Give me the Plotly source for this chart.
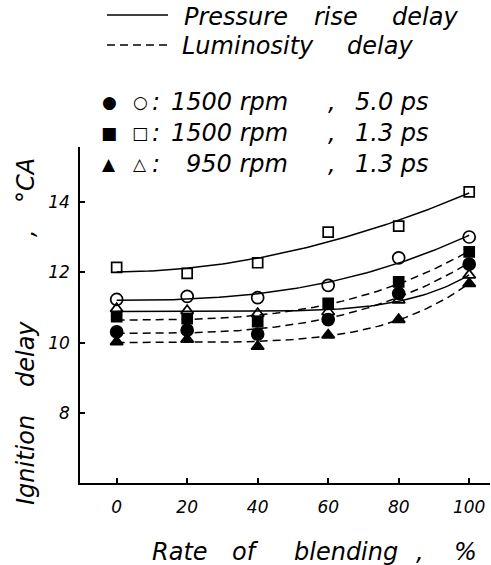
import numpy as np
import plotly.graph_objects as go

# ---------------- data ----------------
blend = [0, 20, 40, 60, 80, 100]
# 1500 rpm, 5.0 ps
press_1500_50 = [11.23, 11.32, 11.28, 11.63, 12.41, 13.00]
lum_1500_50 = [10.31, 10.36, 10.25, 10.66, 11.40, 12.23]
# 1500 rpm, 1.3 ps
press_1500_13 = [12.14, 11.97, 12.27, 13.14, 13.31, 14.28]
lum_1500_13 = [10.74, 10.69, 10.60, 11.12, 11.73, 12.58]
# 950 rpm, 1.3 ps
press_950_13 = [10.97, 10.91, 10.83, 10.88, 11.21, 11.92]
lum_950_13 = [10.03, 10.10, 9.90, 10.22, 10.66, 11.68]

x_ticks = [0, 20, 40, 60, 80, 100]
y_ticks = [8, 10, 12, 14]

W, H = 491, 565
L, R, T, B = 80, 1, 147, 82
PW, PH = W - L - R, H - T - B

FONT = "DejaVu Sans"
DASH = "8px,5px"


def px(xp):
    return (xp - L) / PW


def py(yp):
    return (H - B - yp) / PH


def fit_curve(x, y, xs):
    """Smooth trend a + b*x^p, exponent chosen by least squares."""
    x = np.asarray(x, float)
    y = np.asarray(y, float)
    best = None
    for p in np.arange(1.5, 6.01, 0.1):
        A = np.column_stack([np.ones_like(x), (x / 100.0) ** p])
        coef, *_ = np.linalg.lstsq(A, y, rcond=None)
        r = np.sum((A @ coef - y) ** 2)
        if best is None or r < best[0]:
            best = (r, p, coef)
    _, p, coef = best
    return coef[0] + coef[1] * (xs / 100.0) ** p


fig = go.Figure()

series = [
    (press_1500_50, "circle-open", "solid", 12),
    (lum_1500_50, "circle", DASH, 12),
    (press_1500_13, "square-open", "solid", 10),
    (lum_1500_13, "square", DASH, 10),
    (press_950_13, "triangle-up-open", "solid", 11),
    (lum_950_13, "triangle-up", DASH, 11),
]

xs = np.linspace(0, 100, 101)
for vals, sym, dash, size in series:
    fig.add_trace(go.Scatter(x=xs, y=fit_curve(blend, vals, xs), mode="lines",
                             line=dict(color="black", width=1.5, dash=dash),
                             hoverinfo="skip", showlegend=False))
for vals, sym, dash, size in series:
    fig.add_trace(go.Scatter(x=blend, y=vals, mode="markers",
                             marker=dict(symbol=sym, size=size, color="black",
                                         line=dict(color="black", width=1.7)),
                             showlegend=False))

axis_common = dict(showgrid=False, zeroline=False, showline=True, linecolor="black",
                   linewidth=1.5, ticks="inside", ticklen=5, tickwidth=1.5,
                   tickcolor="black",
                   tickfont=dict(family=FONT, size=17, color="black", style="italic"))

fig.update_xaxes(range=[-10.4, 105.9], tickvals=x_ticks, ticktext=[str(v) for v in x_ticks],
                 ticklabelstandoff=8, **axis_common)
fig.update_yaxes(range=[6.03, 15.55], tickvals=y_ticks, ticktext=[str(v) for v in y_ticks],
                 ticklabelstandoff=5, **axis_common)

anns = []
tf = dict(family=FONT, size=24, color="black", style="italic")


def txt(text, xp, yp, xanchor="left", angle=0, font=tf):
    anns.append(dict(x=px(xp), y=py(yp), xref="paper", yref="paper", text=text,
                     showarrow=False, font=font, xanchor=xanchor, yanchor="middle",
                     textangle=angle))


# y-axis title (rotated words)
txt("Ignition", 26, 460, "center", -90)
txt("delay", 26, 354, "center", -90)
txt(",", 26, 233, "center", -90)
txt("°CA", 26, 181, "center", -90)

# x-axis title
txt("Rate", 150, 552)
txt("of", 230, 552)
txt("blending", 292, 552)
txt(",", 420, 552, "center")
txt("%", 452, 552)

# legend text
txt("Pressure", 182, 17)
txt("rise", 312, 17)
txt("delay", 390, 17)
txt("Luminosity", 180, 46)
txt("delay", 345, 46)

rows = [("●", "○", "1500 rpm", "5.0 ps", 102),
        ("■", "□", "1500 rpm", "1.3 ps", 133),
        ("▲", "△", "950 rpm", "1.3 ps", 164)]
for f_sym, o_sym, t1, t2, yp in rows:
    txt(f_sym, 109, yp, "center", font=dict(family=FONT, size=17, color="black"))
    txt(o_sym, 140, yp, "center", font=dict(family=FONT, size=17, color="black"))
    txt(":", 156, yp, "center")
    txt(t1, 290, yp, "right")
    txt(",", 332, yp, "center")
    txt(t2, 353, yp)

shapes = [
    dict(type="line", xref="paper", yref="paper", x0=px(107), x1=px(168), y0=py(15), y1=py(15),
         line=dict(color="black", width=1.5)),
    dict(type="line", xref="paper", yref="paper", x0=px(107), x1=px(168), y0=py(45), y1=py(45),
         line=dict(color="black", width=1.5, dash=DASH)),
]

fig.update_layout(width=W, height=H, margin=dict(l=L, r=R, t=T, b=B),
                  paper_bgcolor="white", plot_bgcolor="white",
                  annotations=anns, shapes=shapes, showlegend=False)

fig.write_html("out.html")
